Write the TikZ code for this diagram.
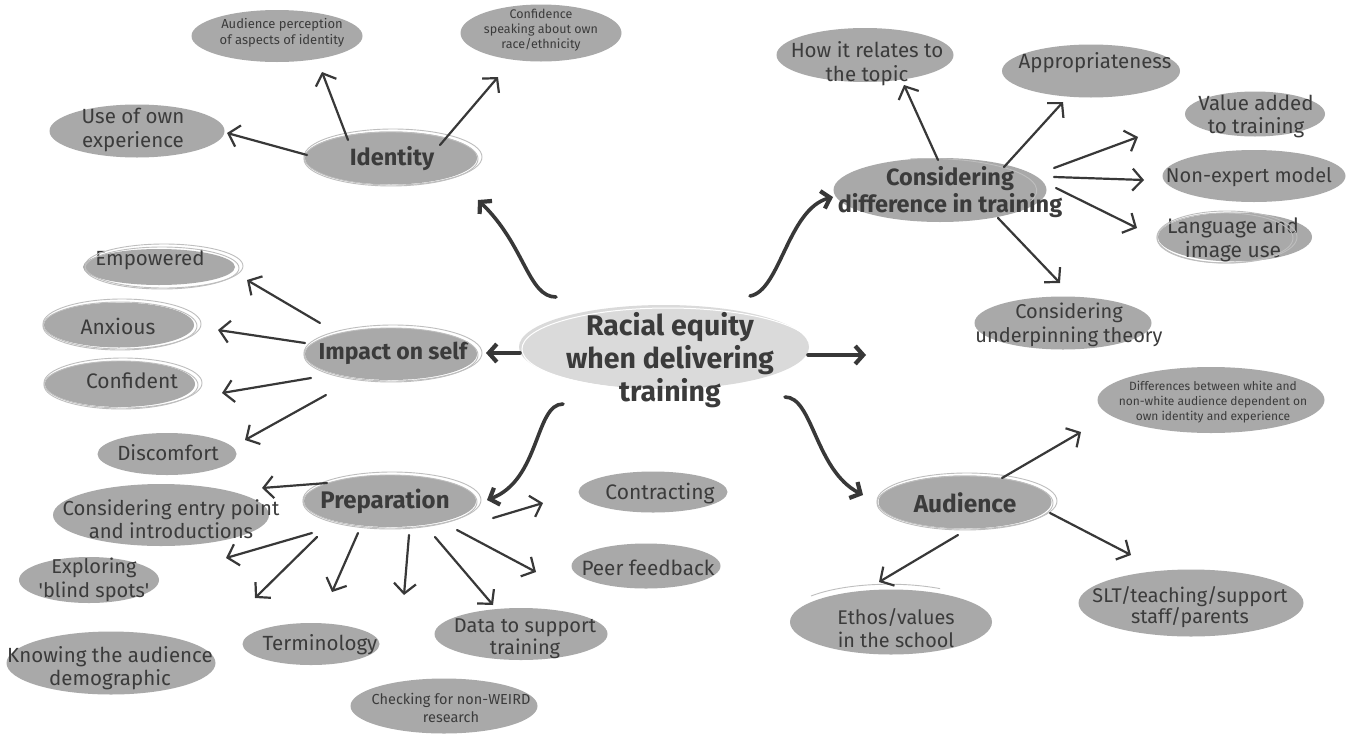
\documentclass[tikz,border=0pt]{standalone}
\usepackage{fontspec}
\setmainfont{Fira Sans}
\usetikzlibrary{calc,arrows.meta,shapes.geometric}
\definecolor{bub}{HTML}{A9A9A9}
\definecolor{cen}{HTML}{DADADA}
\definecolor{ink}{HTML}{3B3B3B}
\definecolor{arr}{HTML}{383838}
\definecolor{ringc}{HTML}{BEBEBE}
\newcommand\fsz[2]{\fontsize{#1}{#2}\selectfont}
\newcommand{\bub}[9]{%
  \node[bubble, minimum width=#4pt, minimum height=#5pt] (#1) at (#2,#3) {};
  \node[txt, font=#8] (#1t) at ($(#1)+(#6,#7)$) {#9};}
\newcommand{\rng}[5]{\draw[ring] ($(#1)+(#4,#5)$) ellipse [x radius=#2pt, y radius=#3pt];}
\tikzset{
  bubble/.style={ellipse, fill=bub, draw=none, inner sep=0pt},
  txt/.style={align=center, text=ink, inner sep=0pt},
  thin arrow/.style={draw=arr, line width=2.2pt, line cap=round,
    -{Straight Barb[length=10pt,width=22pt]}},
  thick arrow/.style={draw=arr, line width=3.6pt, line cap=round,
    -{Straight Barb[length=8pt,width=18pt,line width=4.2pt]}},
  ring/.style={draw=ringc, line width=0.9pt},
}
\begin{document}
\begin{tikzpicture}[x=1pt,y=-1pt]
\fill[white] (0,0) rectangle (1349,734);
\useasboundingbox (0,0) rectangle (1349,734);

% centre
\node[ellipse, fill=cen, inner sep=0pt, minimum width=290pt, minimum height=84pt] (C) at (664,347) {};
\draw[draw=white, line width=1pt] ($(C)+(4,2)$) ellipse [x radius=146pt, y radius=41pt];
\node[txt, font=\fsz{28.5}{33}\bfseries] (Ct) at ($(C)+(6,13)$) {Racial equity\\when delivering\\training};

% identity branch
\bub{I}{391}{158}{172}{53}{1}{1}{\fsz{23.5}{25}\bfseries}{Identity}
\bub{AP}{277}{36}{171}{52}{5}{-3}{\fsz{13}{16.5}}{Audience perception\\of aspects of identity}
\bub{CS}{541}{33}{161}{57}{0}{-3}{\fsz{12.5}{15}}{Confidence\\speaking about own\\race/ethnicity}
\bub{UO}{137}{131}{175}{53}{-4}{-1}{\fsz{20.5}{24}}{Use of own\\experience}

% impact branch
\bub{IS}{391}{354}{172}{52}{2}{-1}{\fsz{23}{25}\bfseries}{Impact on self}
\bub{EM}{159}{267}{152}{36}{-9}{-7}{\fsz{20.5}{22}}{Empowered}
\bub{AX}{119}{325}{150}{45}{-1}{1}{\fsz{21}{22}}{Anxious}
\bub{CF}{120}{384}{150}{46}{12}{-3}{\fsz{21}{22}}{Confident}
\bub{DC}{167}{454}{139}{42}{1}{-1}{\fsz{20.5}{22}}{Discomfort}

% preparation branch
\bub{PR}{390}{501}{172}{52}{-5}{0}{\fsz{24}{25}\bfseries}{Preparation}
\bub{CE}{161}{515}{216}{62}{10}{4}{\fsz{20.3}{23}}{Considering entry point\\and introductions}
\bub{EX}{89}{580}{140}{46}{5}{0}{\fsz{20}{24}}{Exploring\\\textquotesingle blind spots\textquotesingle}
\bub{KN}{111}{663}{209}{63}{-1}{5}{\fsz{20.5}{23}}{Knowing the audience\\demographic}
\bub{TE}{311}{644}{137}{42}{9}{1}{\fsz{20.5}{22}}{Terminology}
\bub{DA}{521}{634}{173}{52}{4}{5}{\fsz{20}{22}}{Data to support\\training}
\bub{CW}{444}{706}{187}{55}{7}{2}{\fsz{14.5}{18}}{Checking for non-WEIRD\\research}
\bub{CO}{653}{492}{149}{41}{7}{2}{\fsz{21}{22}}{Contracting}
\bub{PF}{646}{566}{149}{45}{2}{2}{\fsz{20.7}{22}}{Peer feedback}

% difference branch
\bub{CD}{940}{190}{213}{64}{10}{2}{\fsz{23.5}{27}\bfseries}{Considering\\difference in training}
\bub{HR}{865}{55}{177}{54}{2}{9}{\fsz{20.5}{24}}{How it relates to\\the topic}
\bub{APP}{1091}{71}{178}{53}{4}{-8}{\fsz{20.5}{22}}{Appropriateness}
\bub{VA}{1255}{114}{140}{45}{1}{2}{\fsz{20.5}{23}}{Value added\\to training}
\bub{NE}{1254}{176}{183}{52}{-5}{1}{\fsz{20}{22}}{Non-expert model}
\bub{LA}{1235}{237}{154}{49}{-2}{3}{\fsz{21}{24}}{Language and\\image use}
\bub{UT}{1063}{323}{177}{53}{6}{2}{\fsz{20}{24}}{Considering\\underpinning theory}

% audience branch
\bub{AU}{965}{502}{173}{53}{0}{1}{\fsz{24.5}{26}\bfseries}{Audience}
\bub{DW}{1211}{400}{227}{66}{2}{2}{\fsz{12}{15}}{Differences between white and\\non-white audience dependent on\\own identity and experience}
\bub{ET}{891}{622}{202}{65}{5}{6}{\fsz{19.8}{23}}{Ethos/values\\in the school}
\bub{SLT}{1191}{603}{225}{67}{-1}{4}{\fsz{19.8}{21}}{SLT/teaching/support\\staff/parents}

% hand-drawn rings
\rng{I}{89}{28}{2}{-1}\rng{I}{87}{27}{0}{1}
\rng{IS}{89}{28}{2}{-1}\rng{IS}{87}{27}{0}{1}
\rng{PR}{89}{28}{2}{-1}\rng{PR}{87}{27}{0}{1}
\rng{AU}{90}{28}{2}{-1}\rng{AU}{88}{27}{0}{1}
\rng{EM}{79}{22}{5}{-1}\rng{EM}{77}{21}{3}{1}
\rng{AX}{79}{25}{3}{-1}\rng{AX}{77}{24}{1}{1}
\rng{CF}{79}{25}{3}{-1}\rng{CF}{77}{24}{1}{1}
\rng{LA}{70}{26}{-8}{0}\rng{LA}{68}{25}{-10}{1}
\draw[ring] ($(CD)+(-30,-31)$) arc[start angle=100, end angle=-20, x radius=108pt, y radius=32pt];
\draw[ring] ($(ET)+(-80,-26)$) arc[start angle=140, end angle=60, x radius=102pt, y radius=33pt];

% main connectors
\coordinate (R) at (866,355);
\draw[thick arrow] ($(C)+(-108,-50)$) .. controls +(-28,0) and +(47,45) .. ($(I)+(87,42)$);
\draw[thick arrow] ($(C)+(86,-51)$) .. controls +(30,-5) and +(-45,12) .. ($(CD)+(-107,7)$);
\draw[thick arrow] ($(C)+(-101,57)$) .. controls +(-28,0) and +(53,-20) .. ($(PR)+(97,-1)$);
\draw[thick arrow] ($(C)+(121,50)$) .. controls +(28,0) and +(-48,-25) .. ($(AU)+(-102,-7)$);
\draw[thick arrow] ($(C)+(-144,6)$) -- ($(IS)+(95,-1)$);
\draw[thick arrow] ($(C)+(144,8)$) -- (R);

% identity
\draw[thin arrow] ($(I)+(-84,-3)$) -- ($(UO)+(90,2)$);
\draw[thin arrow] ($(I)+(-43,-18)$) -- ($(AP)+(45,36)$);
\draw[thin arrow] ($(I)+(49,-13)$) -- ($(CS)+(-43,44)$);

% impact
\draw[thin arrow] ($(IS)+(-71,-31)$) -- ($(EM)+(88,13)$);
\draw[thin arrow] ($(IS)+(-86,-11)$) -- ($(AX)+(99,5)$);
\draw[thin arrow] ($(IS)+(-80,24)$) -- ($(CF)+(102,9)$);
\draw[thin arrow] ($(IS)+(-65,41)$) -- ($(DC)+(78,-14)$);

% preparation
\draw[thin arrow] ($(PR)+(-63,-18)$) -- ($(CE)+(101,-27)$);
\draw[thin arrow] ($(PR)+(-78,32)$) -- ($(EX)+(137,-22)$);
\draw[thin arrow] ($(PR)+(-73,36)$) -- ($(KN)+(144,-65)$);
\draw[thin arrow] ($(PR)+(-32,32)$) -- ($(TE)+(21,-52)$);
\draw[thin arrow] ($(PR)+(19,34)$) -- ($(CW)+(-40,-111)$);
\draw[thin arrow] ($(PR)+(45,36)$) -- ($(DA)+(-28,-29)$);
\draw[thin arrow] ($(PR)+(67,29)$) -- ($(PF)+(-110,6)$);
\draw[thin arrow] ($(PR)+(103,17)$) -- ($(CO)+(-110,11)$);

% difference
\draw[thin arrow] ($(CD)+(-2,-30)$) -- ($(HR)+(39,30)$);
\draw[thin arrow] ($(CD)+(64,-23)$) -- ($(APP)+(-28,31)$);
\draw[thin arrow] ($(CD)+(114,-22)$) -- ($(VA)+(-117,23)$);
\draw[thin arrow] ($(CD)+(114,-13)$) -- ($(NE)+(-110,4)$);
\draw[thin arrow] ($(CD)+(116,-2)$) -- ($(LA)+(-98,-9)$);
\draw[thin arrow] ($(CD)+(58,28)$) -- ($(UT)+(-3,-40)$);

% audience
\draw[thin arrow] ($(AU)+(37,-24)$) -- ($(DW)+(-130,32)$);
\draw[thin arrow] ($(AU)+(85,11)$) -- ($(SLT)+(-60,-48)$);
\draw[thin arrow] ($(AU)+(-7,33)$) -- ($(ET)+(-12,-40)$);
\end{tikzpicture}
\end{document}
